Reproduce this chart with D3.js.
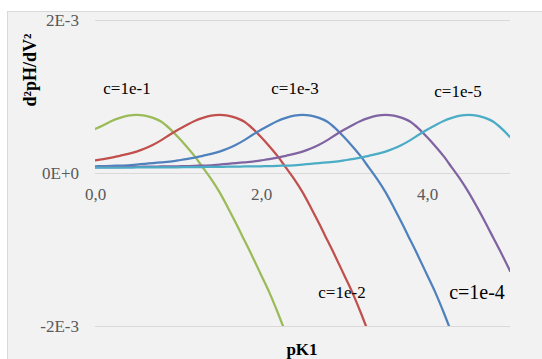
<!DOCTYPE html>
<html>
<head>
<meta charset="utf-8">
<script src="https://cdn.jsdelivr.net/npm/d3@7"></script>
<style>
html,body{margin:0;padding:0;background:#fff;}
svg{display:block;}
.serif{font-family:"Liberation Serif","Times New Roman",Tinos,"DejaVu Serif","Noto Serif",serif;}
</style>
</head>
<body>
<svg id="chart" width="542" height="359"></svg>
<script>
// pK1 values (x)
const pK = [0,0.1,0.2,0.3,0.4,0.5,0.6,0.7,0.8,0.9,1.0,1.1,1.2,1.3,1.4,1.5,1.6,1.7,1.8,1.9,2.0,2.1,2.2,2.3,2.4,2.5,2.6,2.7,2.8,2.9,3.0,3.1,3.2,3.3,3.4,3.5,3.6,3.7,3.8,3.9,4.0,4.1,4.2,4.3,4.4,4.5,4.6,4.7,4.8,4.9,5.0];
// d2pH/dV2 values in units of 1E-3
const c1e1 = [0.575,0.625,0.68,0.72,0.75,0.76,0.75,0.72,0.67,0.58,0.47,0.35,0.22,0.07,-0.08,-0.25,-0.45,-0.66,-0.88,-1.10,-1.33,-1.56,-1.82,-2.10];
const c1e2 = [0.165,0.18,0.20,0.225,0.25,0.28,0.32,0.37,0.43,0.50,0.565,0.625,0.68,0.72,0.75,0.76,0.75,0.72,0.67,0.58,0.47,0.35,0.22,0.07,-0.08,-0.25,-0.45,-0.66,-0.88,-1.10,-1.33,-1.56,-1.82,-2.10];
const c1e3 = [0.088,0.09,0.093,0.097,0.10,0.11,0.12,0.13,0.14,0.15,0.165,0.18,0.20,0.225,0.25,0.28,0.32,0.37,0.43,0.50,0.565,0.625,0.68,0.72,0.75,0.76,0.75,0.72,0.67,0.58,0.47,0.35,0.22,0.07,-0.08,-0.25,-0.45,-0.66,-0.88,-1.10,-1.33,-1.56,-1.82,-2.10];
const c1e4 = [0.075,0.076,0.077,0.078,0.079,0.08,0.082,0.084,0.085,0.087,0.088,0.09,0.093,0.097,0.10,0.11,0.12,0.13,0.14,0.15,0.165,0.18,0.20,0.225,0.25,0.28,0.32,0.37,0.43,0.50,0.565,0.625,0.68,0.72,0.75,0.76,0.75,0.72,0.67,0.58,0.47,0.35,0.22,0.07,-0.08,-0.25,-0.44,-0.64,-0.85,-1.06,-1.28];
const c1e5 = [0.07,0.07,0.07,0.07,0.071,0.072,0.072,0.073,0.074,0.074,0.075,0.076,0.077,0.078,0.079,0.08,0.082,0.084,0.085,0.087,0.088,0.09,0.093,0.097,0.10,0.11,0.12,0.13,0.14,0.15,0.165,0.18,0.20,0.225,0.25,0.28,0.32,0.37,0.43,0.50,0.565,0.625,0.68,0.72,0.75,0.76,0.75,0.72,0.67,0.58,0.47];
const UNIT = 1e-3;

const seriesNames = ["c=1e-1","c=1e-2","c=1e-3","c=1e-4","c=1e-5"];
const seriesValues = [c1e1,c1e2,c1e3,c1e4,c1e5];
const seriesColors = ["#9bbb59","#c0504d","#4f81bd","#8064a2","#4bacc6"];

const yTicks = [-2e-3, 0, 2e-3];
const xTicks = [0, 2, 4];

// series label placement
const labels = [
  {text:"c=1e-1", x:127, y:94, size:17},
  {text:"c=1e-3", x:295, y:94, size:17},
  {text:"c=1e-5", x:458, y:97, size:17},
  {text:"c=1e-2", x:342, y:298, size:17},
  {text:"c=1e-4", x:477, y:299, size:20}
];

const svg = d3.select("#chart");
const W = 542, H = 359;
svg.append("rect").attr("x",0).attr("y",0).attr("width",W).attr("height",H).attr("fill","#fff");
svg.append("rect").attr("x",7.5).attr("y",11.5).attr("width",W-7).attr("height",H-11)
  .attr("fill","#f2f2f2").attr("stroke","#d9d9d9").attr("stroke-width",1);

const plot = {left:95, right:510, top:20, bottom:326};
const x = d3.scaleLinear().domain([0,5]).range([plot.left, plot.right]);
const y = d3.scaleLinear().domain([-2e-3, 2e-3]).range([plot.bottom, plot.top]);

// gridlines
svg.append("g").selectAll("line").data(yTicks).join("line")
  .attr("x1",plot.left).attr("x2",plot.right)
  .attr("y1",d=>Math.round(y(d))+0.5).attr("y2",d=>Math.round(y(d))+0.5)
  .attr("stroke","#d9d9d9").attr("stroke-width",1);

// y axis (labels only)
const fmtY = d => d3.format(".0e")(d).toUpperCase().replace("\u2212","-");
const yAxis = svg.append("g").attr("transform",`translate(${plot.left},0)`)
  .call(d3.axisLeft(y).tickValues(yTicks).tickFormat(fmtY).tickSize(0).tickPadding(16));
yAxis.attr("font-family",null).attr("font-size",null);
yAxis.select(".domain").remove();
yAxis.selectAll("text").attr("class","serif").attr("fill","#595959").style("font-size","17px");

// x axis (labels only, crossing at y=0)
const fmtX = d => d3.format(".1f")(d).replace(".", ",");
const xAxis = svg.append("g").attr("transform",`translate(0,${y(0)})`)
  .call(d3.axisBottom(x).tickValues(xTicks).tickFormat(fmtX).tickSize(0).tickPadding(15));
xAxis.attr("font-family",null).attr("font-size",null);
xAxis.select(".domain").remove();
xAxis.selectAll("text").attr("class","serif").attr("fill","#595959").style("font-size","17px");

// clip
svg.append("clipPath").attr("id","clip").append("rect")
  .attr("x",plot.left).attr("y",plot.top).attr("width",plot.right-plot.left).attr("height",plot.bottom-plot.top);

const line = d3.line()
  .x(d => x(d.x)).y(d => y(d.v))
  .curve(d3.curveMonotoneX);

const g = svg.append("g").attr("clip-path","url(#clip)");
seriesValues.forEach((vals,i) => {
  const pts = vals.map((v,j) => ({x:pK[j], v: v*UNIT}));
  g.append("path").datum(pts)
    .attr("d", line)
    .attr("fill","none")
    .attr("stroke", seriesColors[i])
    .attr("stroke-width", 2.25)
    .attr("stroke-linejoin","round").attr("stroke-linecap","round");
});

// series labels
svg.append("g").selectAll("text").data(labels).join("text")
  .attr("class","serif")
  .attr("x",d=>d.x).attr("y",d=>d.y)
  .attr("text-anchor","middle")
  .style("font-size",d=>d.size+"px")
  .attr("fill","#000")
  .text(d=>d.text);

// axis titles
svg.append("text")
  .attr("class","serif")
  .attr("transform","translate(30,70) rotate(-90)")
  .attr("text-anchor","middle").attr("dominant-baseline","central")
  .style("font-size","18px").style("font-weight","bold")
  .attr("fill","#000")
  .text("d²pH/dV²");

svg.append("text")
  .attr("class","serif")
  .attr("x",302).attr("y",355)
  .attr("text-anchor","middle")
  .style("font-size","17px").style("font-weight","bold")
  .attr("fill","#000")
  .text("pK1");
</script>
</body>
</html>
